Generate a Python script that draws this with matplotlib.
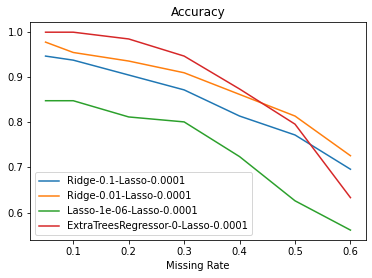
import matplotlib
matplotlib.use("Agg")
import matplotlib.pyplot as plt

missing_rate = [0.05, 0.1, 0.2, 0.3, 0.4, 0.5, 0.6]
ridge_01 = [0.947, 0.938, 0.905, 0.872, 0.814, 0.772, 0.696]
ridge_001 = [0.978, 0.955, 0.936, 0.910, 0.862, 0.814, 0.726]
lasso_1e6 = [0.848, 0.848, 0.812, 0.801, 0.724, 0.626, 0.561]
extratrees = [1.0, 1.0, 0.985, 0.947, 0.874, 0.796, 0.633]
labels = ["Ridge-0.1-Lasso-0.0001", "Ridge-0.01-Lasso-0.0001",
          "Lasso-1e-06-Lasso-0.0001", "ExtraTreesRegressor-0-Lasso-0.0001"]

dpi = 72
fig = plt.figure(figsize=(372 / dpi, 278 / dpi), dpi=dpi)
ax = fig.add_axes([30.3 / 372, 1 - 240 / 278, (365.7 - 30.3) / 372, (240 - 22.3) / 278])
for ys, lab in zip([ridge_01, ridge_001, lasso_1e6, extratrees], labels):
    ax.plot(missing_rate, ys, label=lab, linewidth=1.5)
ax.set_title("Accuracy", fontsize=12)
ax.set_xlabel("Missing Rate", fontsize=10)
ax.tick_params(labelsize=10)
ax.legend(loc="lower left", fontsize=10)
fig.savefig("out.png", dpi=dpi)
